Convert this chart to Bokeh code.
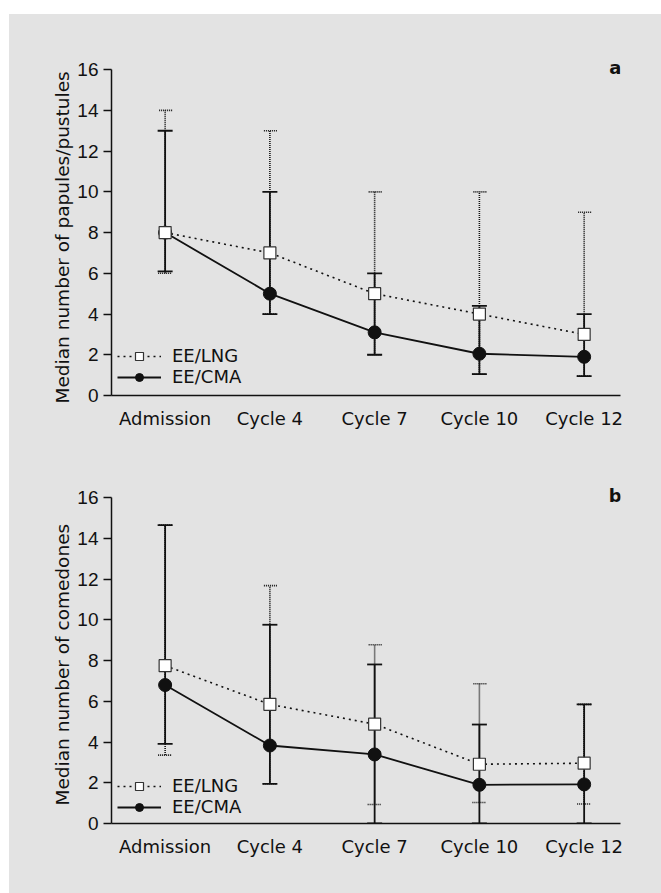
from bokeh.plotting import figure
from bokeh.models import (ColumnDataSource, Whisker, TeeHead, Range1d, FixedTicker,
                          Legend, LegendItem, Label, Spacer, Title)
from bokeh.layouts import column, row
from bokeh.embed import file_html
from bokeh.resources import INLINE

# ---------------- data ----------------
categories = ["Admission", "Cycle 4", "Cycle 7", "Cycle 10", "Cycle 12"]

# panel a: papules/pustules
a_lng_median = [8.0, 7.0, 5.0, 4.0, 3.0]
a_lng_upper = [14.0, 13.0, 10.0, 10.0, 9.0]
a_lng_lower = [6.0, 4.0, 2.0, 1.05, 0.95]
a_cma_median = [8.0, 5.0, 3.1, 2.05, 1.9]
a_cma_upper = [13.0, 10.0, 6.0, 4.4, 4.0]
a_cma_lower = [6.1, 4.0, 2.0, 1.05, 0.95]

# panel b: comedones
b_lng_median = [7.75, 5.85, 4.88, 2.91, 2.96]
b_lng_upper = [14.65, 11.68, 8.78, 6.86, 5.85]
b_lng_lower = [3.36, 1.95, 0.93, 1.03, 0.96]
b_cma_median = [6.8, 3.83, 3.39, 1.9, 1.92]
b_cma_upper = [14.65, 9.76, 7.81, 4.86, 5.85]
b_cma_lower = [3.91, 1.95, 0.0, 0.0, 0.0]

y_ticks = [0, 2, 4, 6, 8, 10, 12, 14, 16]

BG = "#e3e3e3"
INK = "#111111"
FONT = "DejaVu Sans"
NUMFONT = "Liberation Sans"
W = 652


def make_panel(height, top, bottom, ylabel, label_shift, tag, lng_m, lng_u, lng_l,
               cma_m, cma_u, cma_l, legend_offset):
    xs = list(range(len(categories)))
    p = figure(width=W, height=height, output_backend="svg", toolbar_location=None,
               x_range=Range1d(-0.512, 4.347), y_range=Range1d(0, 16.5),
               min_border_left=102, min_border_right=W - 102 - 509,
               min_border_top=top, min_border_bottom=bottom,
               styles={"background-color": BG})
    p.background_fill_color = BG
    p.border_fill_color = BG
    p.outline_line_color = None
    p.grid.visible = False

    lng = ColumnDataSource(dict(x=xs, m=lng_m, u=lng_u, l=lng_l))
    cma = ColumnDataSource(dict(x=xs, m=cma_m, u=cma_u, l=cma_l))

    # error bars
    p.add_layout(Whisker(base="x", upper="u", lower="l", source=lng,
                         line_color=INK, line_width=1.6, line_dash="1 1",
                         upper_head=TeeHead(size=14, line_color=INK, line_width=1.6, line_dash="1 1"),
                         lower_head=TeeHead(size=14, line_color=INK, line_width=1.6, line_dash="1 1")))
    p.add_layout(Whisker(base="x", upper="u", lower="l", source=cma,
                         line_color=INK, line_width=1.8,
                         upper_head=TeeHead(size=15, line_color=INK, line_width=1.8),
                         lower_head=TeeHead(size=15, line_color=INK, line_width=1.8)))

    l_cma = p.line("x", "m", source=cma, line_color=INK, line_width=1.8)
    l_lng = p.line("x", "m", source=lng, line_color=INK, line_width=1.6, line_dash="2 4")
    s_cma = p.scatter("x", "m", source=cma, marker="circle", size=13,
                      fill_color=INK, line_color=INK)
    s_lng = p.scatter("x", "m", source=lng, marker="square", size=12,
                      fill_color="white", line_color="#333333", line_width=1.2)

    legend = Legend(items=[LegendItem(label="EE/LNG", renderers=[l_lng, s_lng]),
                           LegendItem(label="EE/CMA", renderers=[l_cma, s_cma])],
                    location=legend_offset, glyph_width=44, glyph_height=20,
                    label_height=20, label_standoff=11, spacing=0, padding=0, margin=0,
                    background_fill_alpha=0, border_line_color=None,
                    label_text_font=FONT, label_text_font_size="18px",
                    label_text_color=INK)
    p.add_layout(legend, "center")

    # axes
    p.xaxis.ticker = FixedTicker(ticks=xs)
    p.xaxis.major_label_overrides = {i: c for i, c in enumerate(categories)}
    p.xaxis.major_tick_line_color = None
    p.xaxis.minor_tick_line_color = None
    p.xaxis.major_label_standoff = 6
    p.xaxis.major_label_text_font = FONT
    p.xaxis.major_label_text_font_size = "18px"
    p.xaxis.major_label_text_color = INK
    p.xaxis.axis_line_color = INK
    p.xaxis.axis_line_width = 1.5

    p.yaxis.ticker = FixedTicker(ticks=y_ticks)
    p.yaxis.bounds = (0, 16)
    p.yaxis.minor_tick_line_color = None
    p.yaxis.major_tick_in = 0
    p.yaxis.major_tick_out = 8
    p.yaxis.major_tick_line_color = INK
    p.yaxis.major_tick_line_width = 1.3
    p.yaxis.axis_line_color = INK
    p.yaxis.axis_line_width = 1.5
    p.yaxis.major_label_standoff = 5
    p.yaxis.major_label_text_font = NUMFONT
    p.yaxis.major_label_text_font_size = "19px"
    p.yaxis.major_label_text_color = INK

    # y-axis title; starts a little below/above the frame bottom like the original
    p.add_layout(Title(text=ylabel, align="left", offset=label_shift, standoff=4,
                       text_font=FONT, text_font_size="18.5px", text_font_style="normal",
                       text_color=INK), "left")

    p.add_layout(Label(x=4.297, y=16.1, text=tag, text_font=FONT, text_font_size="18px",
                       text_font_style="bold", text_color=INK,
                       text_align="center", text_baseline="middle"))
    return p


pa = make_panel(441, 45, 60, "Median number of papules/pustules", -8, "a",
                a_lng_median, a_lng_upper, a_lng_lower,
                a_cma_median, a_cma_upper, a_cma_lower, (6, 8))
pb = make_panel(438, 32, 70, "Median number of comedones", 18, "b",
                b_lng_median, b_lng_upper, b_lng_lower,
                b_cma_median, b_cma_upper, b_cma_lower, (6, 6))

panels = column(pa, pb, spacing=0, styles={"background-color": BG})
layout = row(Spacer(width=9, height=893),
             column(Spacer(width=W, height=14), panels, spacing=0),
             spacing=0)

open("out.html", "w").write(file_html(layout, INLINE))
